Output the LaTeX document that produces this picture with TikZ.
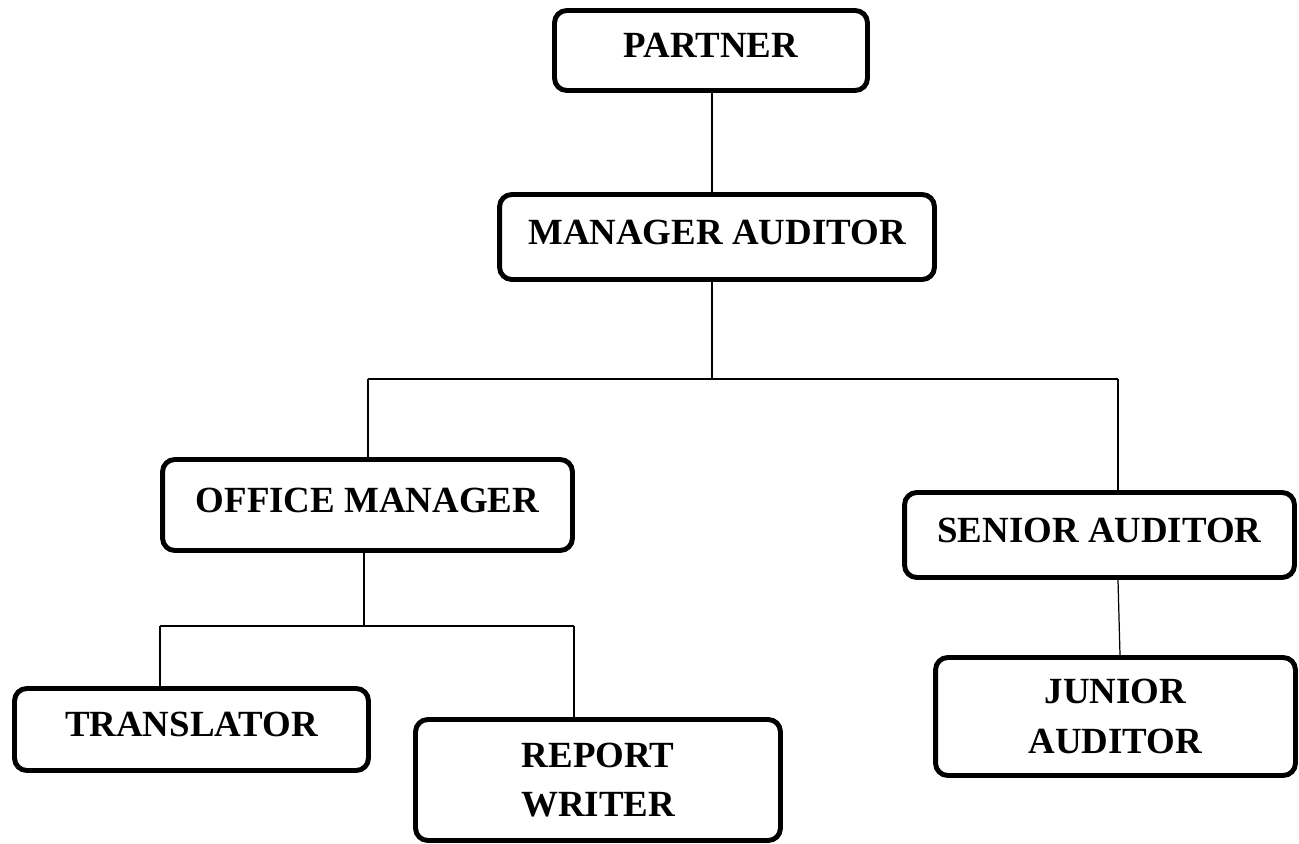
\documentclass[tikz,border=0pt]{standalone}
\usepackage{fontspec}
\setmainfont{Liberation Serif}
\usepackage{tikz}

\begin{document}
\begin{tikzpicture}[x=0.02cm, y=-0.02cm,
  role/.style={draw, line width=2.8pt, rounded corners=7pt, inner sep=0pt, align=center,
    font=\bfseries\fontsize{21}{28}\selectfont},
  roleline/.style={role, text height=0.6cm, text depth=0.3cm},
  link/.style={line width=0.7pt}]
\useasboundingbox (0,0) rectangle (1299,844);

\node[roleline, minimum width=6.26cm, minimum height=1.6cm] (partner) at (711,50.5) {PARTNER};
\node[roleline, minimum width=8.7cm, minimum height=1.7cm] (manager) at (717,237) {MANAGER AUDITOR};
\node[roleline, minimum width=8.2cm, minimum height=1.82cm] (office) at (367.5,505) {OFFICE MANAGER};
\node[roleline, minimum width=7.8cm, minimum height=1.7cm] (senior) at (1099.5,535) {SENIOR AUDITOR};
\node[roleline, minimum width=7.08cm, minimum height=1.64cm] (translator) at (191.5,729.5) {TRANSLATOR};
\node[role, minimum width=7.3cm, minimum height=2.42cm] (report) at (598,780) {REPORT\\WRITER};
\node[role, minimum width=7.2cm, minimum height=2.36cm] (junior) at (1115.5,716.5) {JUNIOR\\AUDITOR};

\coordinate (busM) at (712,379);
\coordinate (busL) at (368,379);
\coordinate (busR) at (1118,379);
\coordinate (subM) at (364,626);
\coordinate (subL) at (160,626);
\coordinate (subR) at (574,626);

\draw[link] (partner.south -| busM) -- (manager.north -| busM);
\draw[link] (manager.south -| busM) -- (busM);
\draw[link] (busL) -- (busR);
\draw[link] (busL) -- (busL |- office.north);
\draw[link] (busR) -- (busR |- senior.north);
\draw[link] (office.south -| subM) -- (subM);
\draw[link] (subL) -- (subR);
\draw[link] (subL) -- (subL |- translator.north);
\draw[link] (subR) -- (subR |- report.north);
\draw[link] (senior.south -| busR) -- ([xshift=0.09cm]junior.north);
\end{tikzpicture}
\end{document}
